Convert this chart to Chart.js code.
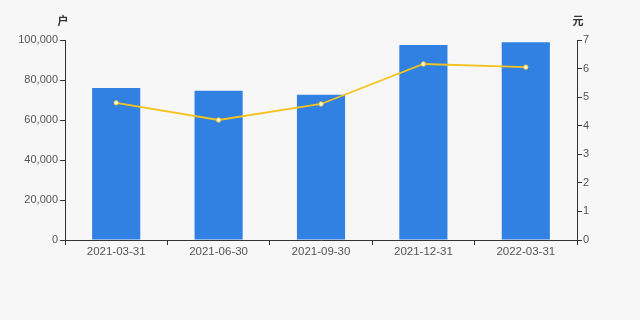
<!DOCTYPE html>
<html>
<head>
<meta charset="utf-8">
<style>
html,body{margin:0;padding:0;background:#f7f7f7;}
#wrap{width:640px;height:320px;position:relative;}
</style>
<script src="https://cdn.jsdelivr.net/npm/chart.js@4/dist/chart.umd.min.js"></script>
</head>
<body>
<div id="wrap"><canvas id="c" width="640" height="320"></canvas></div>
<script>
const categories = ["2021-03-31","2021-06-30","2021-09-30","2021-12-31","2022-03-31"];
const holders = [76000, 74600, 72600, 97500, 98900];
const perCapita = [4.80, 4.20, 4.76, 6.16, 6.05];
const leftUnit = "户";
const rightUnit = "元";

const FONT = "'Liberation Sans', Arial, 'Noto Sans CJK SC', sans-serif";

const unitPlugin = {
  id: 'units',
  afterDraw(chart) {
    const ctx = chart.ctx;
    const yl = chart.scales.y, yr = chart.scales.y1;
    ctx.save();
    ctx.fillStyle = '#333';
    ctx.font = "bold 11px 'Noto Sans CJK SC', sans-serif";
    ctx.textAlign = 'center';
    ctx.textBaseline = 'middle';
    ctx.fillText(leftUnit, yl.right - 2, 21);
    ctx.fillText(rightUnit, yr.left + 1, 21);
    ctx.restore();
  }
};

new Chart(document.getElementById('c'), {
  data: {
    labels: categories,
    datasets: [
      {
        type: 'line',
        data: perCapita,
        yAxisID: 'y1',
        borderColor: '#f5c320',
        borderWidth: 1.8,
        pointRadius: 2.2,
        pointBackgroundColor: '#ffffff',
        pointBorderColor: '#f5c320',
        pointBorderWidth: 1,
        tension: 0,
        order: 0
      },
      {
        type: 'bar',
        data: holders,
        yAxisID: 'y',
        backgroundColor: '#3081e2',
        barPercentage: 0.47,
        categoryPercentage: 1,
        order: 1
      }
    ]
  },
  plugins: [unitPlugin],
  options: {
    responsive: false,
    animation: false,
    layout: { padding: { top: 40, bottom: 60, left: 0, right: 0 } },
    plugins: { legend: { display: false }, tooltip: { enabled: false } },
    scales: {
      x: {
        grid: { display: true, drawOnChartArea: false, drawTicks: true, tickLength: 5, color: '#333', offset: true },
        border: { display: true, color: '#333', width: 1 },
        ticks: { color: '#555', font: { family: FONT, size: 11.5 }, padding: 0, maxRotation: 0 },
        afterFit(s) { s.height = 20; }
      },
      y: {
        position: 'left',
        min: 0, max: 100000,
        grid: { display: true, drawOnChartArea: false, drawTicks: true, tickLength: 5, color: '#333' },
        border: { display: true, color: '#333', width: 1 },
        ticks: { stepSize: 20000, color: '#555', font: { family: FONT, size: 11 }, padding: 2,
          callback: v => v.toLocaleString('en-US') },
        afterFit(s) { s.width = 65; }
      },
      y1: {
        position: 'right',
        min: 0, max: 7,
        grid: { display: true, drawOnChartArea: false, drawTicks: true, tickLength: 5, color: '#333' },
        border: { display: true, color: '#333', width: 1 },
        ticks: { stepSize: 1, color: '#555', font: { family: FONT, size: 11 }, padding: 1 },
        afterFit(s) { s.width = 63; }
      }
    }
  }
});
</script>
</body>
</html>
